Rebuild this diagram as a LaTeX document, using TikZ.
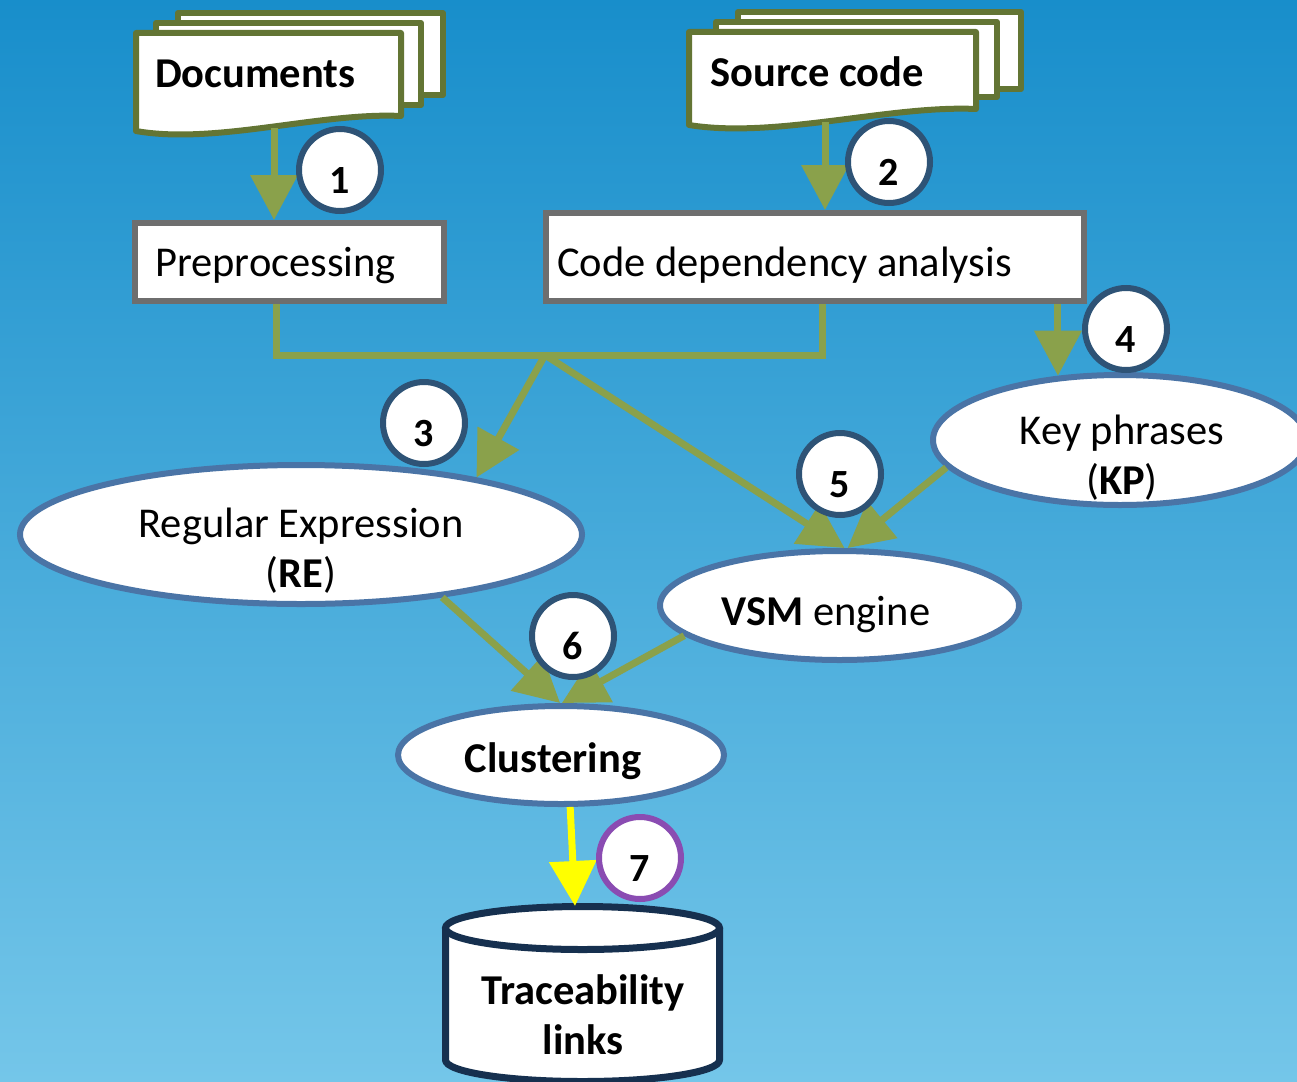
\documentclass[tikz,border=0pt]{standalone}
\usepackage{fontspec}
\setmainfont{Carlito}
\usetikzlibrary{arrows.meta,shapes.geometric}

\definecolor{bgtop}{RGB}{24,142,203}
\definecolor{bgbot}{RGB}{116,198,233}
\definecolor{flow}{RGB}{138,161,75}
\definecolor{docline}{RGB}{99,117,52}
\definecolor{boxline}{RGB}{110,110,110}
\definecolor{ringline}{RGB}{46,83,118}
\definecolor{ellline}{RGB}{74,116,166}
\definecolor{dbline}{RGB}{22,48,79}
\definecolor{ringseven}{RGB}{138,76,178}
\definecolor{outlink}{RGB}{255,255,0}

\begin{document}
\begin{tikzpicture}[x=1pt,y=-1pt,
  txt/.style={font=\fontsize{42.5}{51}\selectfont, inner sep=0pt, text=black},
  page/.style={draw=docline, fill=white, line width=6pt, line join=round},
  procbox/.style={rectangle, draw=boxline, fill=white, line width=6pt, inner sep=0pt},
  procell/.style={ellipse, draw=ellline, fill=white, line width=6pt, inner sep=0pt},
  numring/.style={circle, draw=ringline, fill=white, line width=6pt,
    minimum size=82pt, inner sep=0pt, text=black,
    font=\fontsize{40}{40}\selectfont\bfseries, text height=46pt, text depth=0pt},
  flowline/.style={draw=flow, line width=7pt},
  flowarrow/.style={draw=flow, line width=7pt, -{Triangle[length=45pt,width=46pt]}},
  linkarrow/.style={draw=outlink, line width=7pt, -{Triangle[length=45pt,width=46pt]}}
]
% canvas and backdrop
\useasboundingbox (0,0) rectangle (1297,1081);
\clip (0,0) rectangle (1297,1081);
\shade[top color=bgtop, bottom color=bgbot] (0,0) rectangle (1297,1081);

% document stacks
\path[page] (178,13) rectangle (443,95);
\path[page] (156,23) rectangle (421,105);
\path[page] (136,33) -- (401,33) -- (401,116)
  .. controls (321,112) and (215,145) .. (136,131) -- cycle;
\node[txt, anchor=base west] (docs) at (155,87) {\bfseries Documents};
\coordinate (docfoot) at (274,128);

\path[page] (738,12) rectangle (1021,89);
\path[page] (716,22) rectangle (997,97);
\path[page] (689,32) -- (976,32) -- (976,109)
  .. controls (890,105) and (775,139) .. (689,125) -- cycle;
\node[txt, anchor=base west] (src) at (710,86) {\bfseries Source code};
\coordinate (codefoot) at (825,122);

% processing boxes
\node[procbox, minimum width=309pt, minimum height=78pt] (prep) at (289.5,262) {};
\node[txt, anchor=base west] (preptxt) at (155,276) {Preprocessing};
\node[procbox, minimum width=538pt, minimum height=88pt] (dep) at (815,257) {};
\node[txt, anchor=base west] (deptxt) at (557,276) {Code dependency analysis};

% process ellipses
\node[procell, minimum width=562pt, minimum height=139pt] (re) at (301,534.5) {};
\node[txt, anchor=base] (retxt) at (301,537) {Regular Expression};
\node[txt, anchor=base] (reabbr) at (301,587) {(\textbf{RE})};

\node[procell, minimum width=374pt, minimum height=130pt] (kp) at (1120,440) {};
\node[txt, anchor=base] (kptxt) at (1122,444) {Key phrases};
\node[txt, anchor=base] (kpabbr) at (1122,494) {(\textbf{KP})};

\node[procell, minimum width=359pt, minimum height=109pt] (vsm) at (839.5,605.5) {};
\node[txt, anchor=base] (vsmtxt) at (826,625) {\textbf{VSM} engine};

\node[procell, minimum width=326pt, minimum height=98pt] (clust) at (561,755) {};
\node[txt, anchor=base] (clusttxt) at (553,772) {\bfseries Clustering};

% result store
\path[draw=dbline, fill=white, line width=7pt, line join=round]
  (445.5,928) -- (445.5,1060)
  .. controls (445.5,1071.9) and (506.8,1081.5) .. (582.5,1081.5)
  .. controls (658.2,1081.5) and (719.5,1071.9) .. (719.5,1060)
  -- (719.5,928);
\path[draw=dbline, fill=white, line width=7pt] (582.5,928) ellipse [x radius=137, y radius=21.5];
\coordinate (dbtop) at (575,906);
\node[txt, anchor=base] (dbtxt1) at (583,1004) {\bfseries Traceability};
\node[txt, anchor=base] (dbtxt2) at (583,1054) {\bfseries links};

% connectors
\coordinate (mergeL) at (276,355);
\coordinate (mergeR) at (822,355);
\coordinate (join) at (545,355);

\draw[flowarrow] (docfoot) -- (docfoot |- prep.north);
\draw[flowarrow] (codefoot) -- (codefoot |- dep.north);
\draw[flowline] (mergeL |- prep.south) -- (mergeL) -- (mergeR) -- (mergeR |- dep.south);
\draw[flowarrow] (join) -- (re.18.5);
\draw[flowarrow] (join) -- (vsm.85);
\draw[flowarrow] (dep.south -| kp.134) -- (kp.134);
\draw[flowarrow] (kp.189.7) -- (vsm.82);
\draw[flowarrow] (re.-24.4) -- (clust.91);
\draw[flowarrow] (vsm.191.7) -- (clust.89);
\draw[linkarrow] (clust.-80) -- (dbtop);

% step markers
\node[numring] (s1) at (340,170) {1};
\node[numring] (s2) at (889,162) {2};
\node[numring] (s3) at (424,423) {3};
\node[numring] (s4) at (1126,329) {4};
\node[numring] (s5) at (840,474) {5};
\node[numring] (s6) at (573,636) {6};
\node[numring, draw=ringseven] (s7) at (640,858) {7};
\end{tikzpicture}
\end{document}
